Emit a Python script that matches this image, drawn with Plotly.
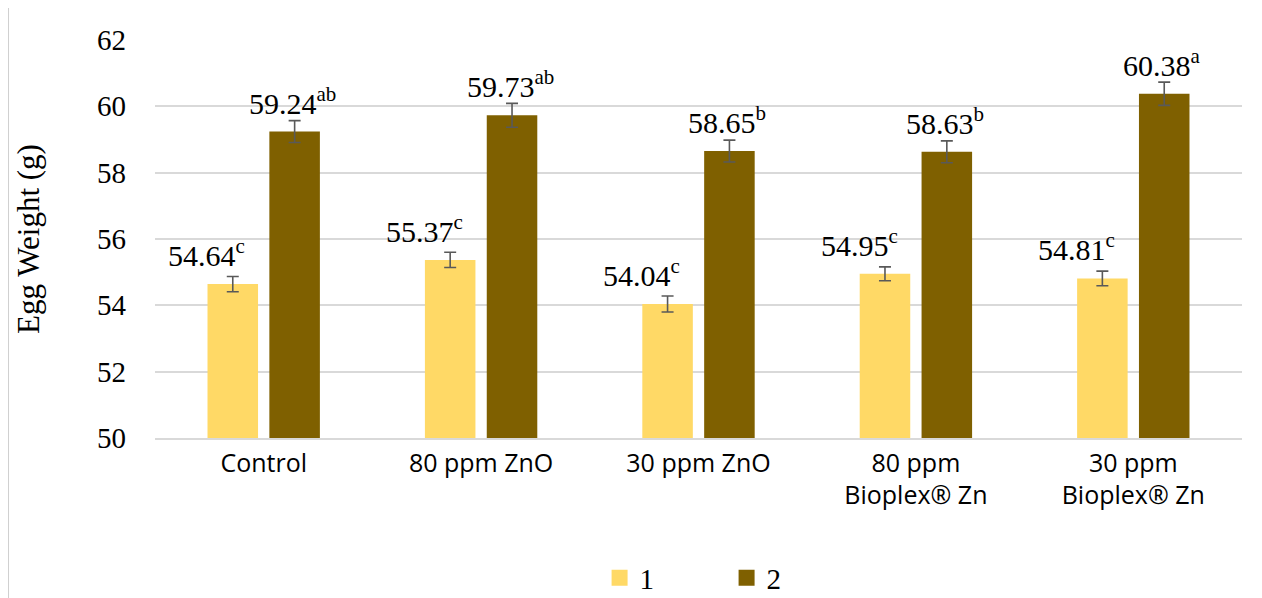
import plotly.graph_objects as go

categories = ["Control", "80 ppm ZnO", "30 ppm ZnO", "80 ppm<br>Bioplex® Zn", "30 ppm<br>Bioplex® Zn"]
series_names = ["1", "2"]
values_1 = [54.64, 55.37, 54.04, 54.95, 54.81]
values_2 = [59.24, 59.73, 58.65, 58.63, 60.38]
errors_1 = [0.23, 0.23, 0.24, 0.21, 0.22]
errors_2 = [0.33, 0.36, 0.33, 0.33, 0.35]
letters_1 = ["c", "c", "c", "c", "c"]
letters_2 = ["ab", "ab", "b", "b", "a"]
y_ticks = [50, 52, 54, 56, 58, 60, 62]

color_1 = "#FFD966"
color_2 = "#7F6000"
serif = "Liberation Serif, Times New Roman, serif"
sans = "Open Sans, sans-serif"

fig = go.Figure()
for name, vals, errs, col in [(series_names[0], values_1, errors_1, color_1),
                              (series_names[1], values_2, errors_2, color_2)]:
    fig.add_trace(go.Bar(
        x=categories, y=vals, name=name, showlegend=False,
        marker=dict(color=col, line=dict(width=0)),
        error_y=dict(type="data", array=errs, visible=True,
                     color="#595959", thickness=1.6, width=6),
    ))
    # legend entry with a larger square key
    fig.add_trace(go.Scatter(
        x=[None], y=[None], mode="markers", name=name,
        marker=dict(symbol="square", size=17, color=col),
    ))

slot_px = 61.8
for vals, errs, letters, xs in [(values_1, errors_1, letters_1, -slot_px / 2 - 26),
                                (values_2, errors_2, letters_2, slot_px / 2 - 2)]:
    for c, v, e, l in zip(categories, vals, errs, letters):
        fig.add_annotation(
            x=c, y=v, xref="x", yref="y",
            text=f"{v:.2f}<sup>{l}</sup>",
            showarrow=False, yanchor="bottom", xanchor="center",
            xshift=xs, yshift=10,
            font=dict(family=serif, size=30, color="#000000"),
        )

# outer chart frame
fig.add_shape(type="rect", xref="paper", yref="paper",
              x0=-0.1352, x1=1.0147, y0=-0.6, y1=1.088,
              line=dict(color="#d0d0d0", width=2), fillcolor="rgba(0,0,0,0)",
              layer="below")

fig.update_layout(
    width=1254, height=590,
    margin=dict(l=147, r=20, t=32, b=160),
    paper_bgcolor="white", plot_bgcolor="white",
    barmode="group", bargap=0.431, bargroupgap=0.183,
    showlegend=True,
    legend=dict(orientation="h", x=0.409, xanchor="left",
                yref="container", y=0.0339, yanchor="middle",
                font=dict(family=serif, size=29, color="#000000"),
                entrywidth=82, entrywidthmode="pixels", itemwidth=30,
                bgcolor="rgba(0,0,0,0)"),
    xaxis=dict(showgrid=False, showline=True, linecolor="#d9d9d9", linewidth=1.5,
               automargin=False,
               ticks="", tickfont=dict(family=sans, size=25, color="#000000"),
               ticklabelstandoff=2),
    yaxis=dict(range=[50, 62], tickvals=y_ticks, showgrid=True, gridcolor="#d9d9d9",
               gridwidth=1.5, zeroline=False, showline=False, ticks="",
               automargin=False,
               tickfont=dict(family=serif, size=29, color="#000000"),
               ticklabelstandoff=28,
               title=dict(text="Egg Weight (g)", standoff=48,
                          font=dict(family=serif, size=31, color="#000000"))),
)

fig.write_html("out.html")
